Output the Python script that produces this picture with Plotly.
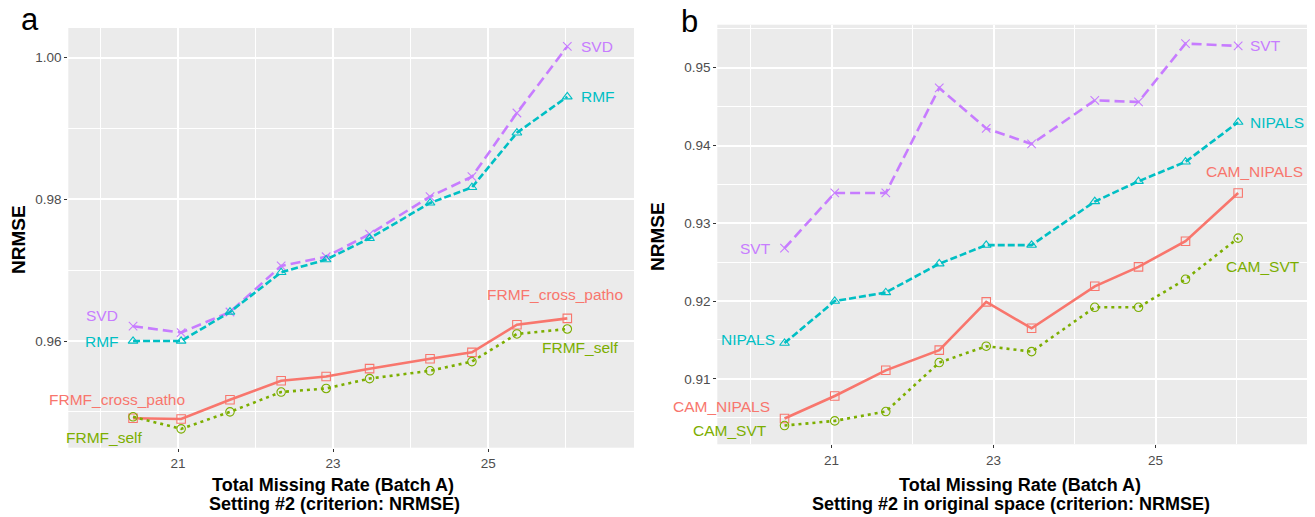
import plotly.graph_objects as go

# ---------------- data ----------------
missing_rate = [20.42, 21.04, 21.67, 22.33, 22.91, 23.47, 24.25, 24.79, 25.37, 26.02]

# panel a
svd = [0.9621, 0.9612, 0.9641, 0.9706, 0.9719, 0.9751, 0.9804, 0.9832, 0.9922, 1.0016]
rmf = [0.9600, 0.9600, 0.9641, 0.9697, 0.9715, 0.9745, 0.9795, 0.9817, 0.9894, 0.9945]
frmf_cross = [0.9491, 0.9490, 0.9517, 0.9544, 0.9550, 0.9561, 0.9575, 0.9584, 0.9623, 0.9632]
frmf_self = [0.9493, 0.9476, 0.9500, 0.9528, 0.9533, 0.9547, 0.9558, 0.9571, 0.9610, 0.9617]

# panel b
svt = [0.9268, 0.9339, 0.9339, 0.9474, 0.9422, 0.9402, 0.9458, 0.9456, 0.9531, 0.9528]
nipals = [0.9146, 0.9200, 0.9211, 0.9248, 0.9272, 0.9272, 0.9328, 0.9354, 0.9379, 0.9430]
cam_nipals = [0.9049, 0.9078, 0.9111, 0.9137, 0.9199, 0.9165, 0.9219, 0.9244, 0.9277, 0.9339]
cam_svt = [0.9040, 0.9046, 0.9058, 0.9121, 0.9142, 0.9135, 0.9192, 0.9192, 0.9228, 0.9281]

x_ticks = [21, 23, 25]
ya_ticks = [0.96, 0.98, 1.00]
yb_ticks = [0.91, 0.92, 0.93, 0.94, 0.95]

# ---------------- styles ----------------
PURPLE = "#C77CFF"
TEAL = "#00BFC4"
SALMON = "#F8766D"
GREEN = "#7CAE00"
FONT = "Liberation Sans, Arial, sans-serif"
LABEL_SIZE = 15.5
TITLE_SIZE = 18

fig = go.Figure()


def add_series(xaxis, yaxis, y, color, dash, symbol, name):
    fig.add_trace(go.Scatter(
        x=missing_rate, y=y, mode="lines+markers", name=name,
        xaxis=xaxis, yaxis=yaxis, showlegend=False,
        line=dict(color=color, width=2.6, dash=dash),
        marker=dict(symbol=symbol, size=8.5, color=color,
                    line=dict(color=color, width=1.1)),
        cliponaxis=False,
    ))


# panel a
add_series("x", "y", svd, PURPLE, "10px,5px", "x-thin-open", "SVD")
add_series("x", "y", rmf, TEAL, "7px,3px", "triangle-up-open", "RMF")
add_series("x", "y", frmf_cross, SALMON, "solid", "square-open", "FRMF_cross_patho")
add_series("x", "y", frmf_self, GREEN, "3px,4px", "circle-open", "FRMF_self")
# panel b
add_series("x2", "y2", svt, PURPLE, "10px,5px", "x-thin-open", "SVT")
add_series("x2", "y2", nipals, TEAL, "7px,3px", "triangle-up-open", "NIPALS")
add_series("x2", "y2", cam_nipals, SALMON, "solid", "square-open", "CAM_NIPALS")
add_series("x2", "y2", cam_svt, GREEN, "3px,4px", "circle-open", "CAM_SVT")

# series labels (data coords)
labels = [
    # panel a
    ("x", "y", 26.17, svd[-1], "SVD", PURPLE, "left"),
    ("x", "y", 26.17, rmf[-1], "RMF", TEAL, "left"),
    ("x", "y", 20.25, 0.9636, "SVD", PURPLE, "right"),
    ("x", "y", 20.27, rmf[0], "RMF", TEAL, "right"),
    ("x", "y", 20.21, 0.9518, "FRMF_cross_patho", SALMON, "center"),
    ("x", "y", 20.05, 0.9464, "FRMF_self", GREEN, "center"),
    ("x", "y", 25.86, 0.9666, "FRMF_cross_patho", SALMON, "center"),
    ("x", "y", 26.19, 0.9591, "FRMF_self", GREEN, "center"),
    # panel b
    ("x2", "y2", 26.14, svt[-1], "SVT", PURPLE, "left"),
    ("x2", "y2", 26.14, nipals[-1], "NIPALS", TEAL, "left"),
    ("x2", "y2", 26.22, 0.9366, "CAM_NIPALS", SALMON, "center"),
    ("x2", "y2", 26.33, 0.9244, "CAM_SVT", GREEN, "center"),
    ("x2", "y2", 20.28, svt[0], "SVT", PURPLE, "right"),
    ("x2", "y2", 20.33, 0.9151, "NIPALS", TEAL, "right"),
    ("x2", "y2", 19.64, 0.9064, "CAM_NIPALS", SALMON, "center"),
    ("x2", "y2", 19.75, 0.9034, "CAM_SVT", GREEN, "center"),
]
for xr, yr, xv, yv, txt, col, anc in labels:
    fig.add_annotation(x=xv, y=yv, xref=xr, yref=yr, text=txt, showarrow=False,
                       xanchor=anc, yanchor="middle",
                       font=dict(family=FONT, size=LABEL_SIZE, color=col))

# titles (paper coords)
W, H = 1315, 517


def paper_text(px, py, txt, size, bold=True, angle=0, color="#000000", xanchor="center"):
    t = f"<b>{txt}</b>" if bold else txt
    fig.add_annotation(x=px / W, y=1 - py / H, xref="paper", yref="paper", text=t,
                       showarrow=False, xanchor=xanchor, yanchor="middle",
                       textangle=angle, font=dict(family=FONT, size=size, color=color))


paper_text(333, 485, "Total Missing Rate (Batch A)", TITLE_SIZE)
paper_text(334, 504, "Setting #2 (criterion: NRMSE)", TITLE_SIZE)
paper_text(1020, 485, "Total Missing Rate (Batch A)", TITLE_SIZE)
paper_text(1011, 504, "Setting #2 in original space (criterion: NRMSE)", TITLE_SIZE)
paper_text(19, 240, "NRMSE", 19, angle=-90)
paper_text(657, 237, "NRMSE", 19, angle=-90)
paper_text(30, 19, "a", 31, bold=False)
paper_text(689, 21, "b", 31, bold=False)

axis_common = dict(
    showline=False, zeroline=False, showgrid=True, gridcolor="white", gridwidth=1.6,
    ticks="outside", ticklen=3, tickwidth=1, tickcolor="#333333",
    tickfont=dict(family=FONT, size=13.5, color="#4D4D4D"),
)

fig.update_layout(
    width=W, height=H,
    margin=dict(l=0, r=0, t=0, b=0),
    paper_bgcolor="white",
    plot_bgcolor="#EBEBEB",
    xaxis=dict(axis_common, domain=[68.3 / W, 634 / W], range=[19.585, 26.88],
               tickvals=x_ticks, anchor="y",
               minor=dict(dtick=1, tick0=20, showgrid=True, gridcolor="white", gridwidth=0.7, ticks="")),
    yaxis=dict(axis_common, domain=[1 - 447.7 / H, 1 - 28 / H], range=[0.94494, 1.0042],
               tickvals=ya_ticks, tickformat=".2f", anchor="x",
               minor=dict(dtick=0.01, tick0=0.95, showgrid=True, gridcolor="white", gridwidth=0.7, ticks="")),
    xaxis2=dict(axis_common, domain=[717.3 / W, 1307 / W], range=[19.59, 26.87],
                tickvals=x_ticks, anchor="y2",
                minor=dict(dtick=1, tick0=20, showgrid=True, gridcolor="white", gridwidth=0.7, ticks="")),
    yaxis2=dict(axis_common, domain=[1 - 444.3 / H, 1 - 24.7 / H], range=[0.90159, 0.95553],
                tickvals=yb_ticks, tickformat=".2f", anchor="x2",
                minor=dict(dtick=0.005, tick0=0.905, showgrid=True, gridcolor="white", gridwidth=0.7, ticks="")),
)

fig.write_html("out.html")
